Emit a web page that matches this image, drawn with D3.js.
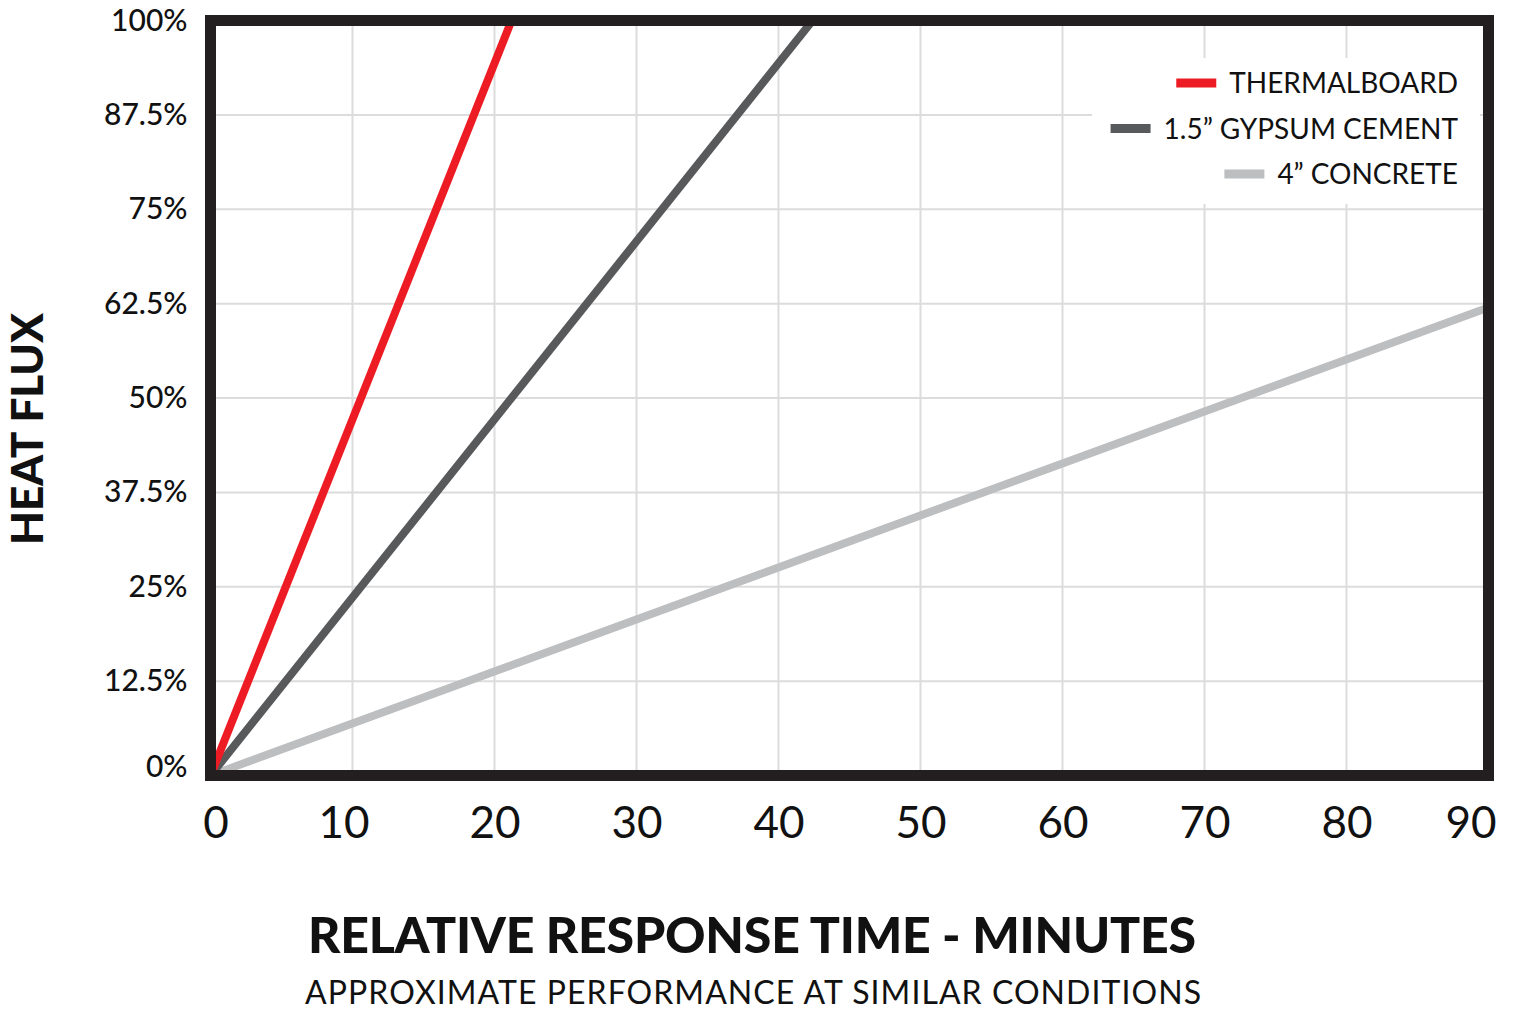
<!DOCTYPE html>
<html>
<head>
<meta charset="utf-8">
<title>Heat Flux vs Relative Response Time</title>
<style>
  body { margin: 0; background: #fff; }
  svg text { font-family: Lato, "Open Sans", sans-serif; fill: #111; }
</style>
</head>
<body>
<script src="https://cdn.jsdelivr.net/npm/d3@7"></script>
<script>

// chart data
var seriesNames = ["THERMALBOARD", "1.5\u201D GYPSUM CEMENT", "4\u201D CONCRETE"];
var seriesColors = ["#ed1c24", "#58595b", "#bcbec0"];
var thermalboard = [[0, 0], [21.2, 100]];
var gypsum = [[0, 0], [42.4, 100]];
var concrete = [[0, 0], [90, 62]];
var xTicks = [0, 10, 20, 30, 40, 50, 60, 70, 80, 90];
var yTicks = [0, 12.5, 25, 37.5, 50, 62.5, 75, 87.5, 100];

var allSeries = [thermalboard, gypsum, concrete];

var W = 1518, H = 1012;
var svg = d3.select("body").append("svg")
    .attr("width", W)
    .attr("height", H);

// scales - plot frame centred on the thick border
var x = d3.scaleLinear().domain([0, 90]).range([210.5, 1488.5]);
var y = d3.scaleLinear().domain([0, 100]).range([775.5, 20.5]);

// clip for the lines
svg.append("clipPath").attr("id", "plot")
  .append("rect")
    .attr("x", x(0)).attr("y", y(100))
    .attr("width", x(90) - x(0))
    .attr("height", y(0) - y(100));

// grid
svg.append("g")
    .selectAll("line.vg")
    .data(xTicks.slice(1, -1))
    .enter().append("line")
    .attr("x1", function(d) { return x(d); })
    .attr("x2", function(d) { return x(d); })
    .attr("y1", y(100)).attr("y2", y(0))
    .attr("stroke", "#dcdcdc").attr("stroke-width", 2);

svg.append("g")
    .selectAll("line.hg")
    .data(yTicks.slice(1, -1))
    .enter().append("line")
    .attr("y1", function(d) { return y(d); })
    .attr("y2", function(d) { return y(d); })
    .attr("x1", x(0)).attr("x2", x(90))
    .attr("stroke", "#dcdcdc").attr("stroke-width", 2);

// series lines
var line = d3.line()
    .x(function(d) { return x(d[0]); })
    .y(function(d) { return y(d[1]); });

svg.append("g")
    .attr("clip-path", "url(#plot)")
    .selectAll("path")
    .data(allSeries.slice().reverse())
    .enter().append("path")
    .attr("d", line)
    .attr("fill", "none")
    .attr("stroke", function(d, i) { return seriesColors[2 - i]; })
    .attr("stroke-width", 8);

// legend (white box hides the grid behind it)
svg.append("rect")
    .attr("x", 1092).attr("y", 58)
    .attr("width", 388).attr("height", 146)
    .attr("fill", "#fff");

var legend = svg.append("g")
    .selectAll("g")
    .data(seriesNames)
    .enter().append("g")
    .attr("transform", function(d, i) { return "translate(1458," + (83 + i * 45.5) + ")"; });

legend.append("text")
    .attr("text-anchor", "end")
    .attr("dy", "0.36em")
    .style("font-size", "28px")
    .text(function(d) { return d; });

legend.each(function(d, i) {
    var g = d3.select(this);
    var w = g.select("text").node().getComputedTextLength();
    g.insert("line", "text")
      .attr("x1", -w - 13).attr("x2", -w - 53)
      .attr("y1", 0).attr("y2", 0)
      .attr("stroke", seriesColors[i])
      .attr("stroke-width", 9);
});

// frame
svg.append("rect")
    .attr("x", x(0)).attr("y", y(100))
    .attr("width", x(90) - x(0))
    .attr("height", y(0) - y(100))
    .attr("fill", "none")
    .attr("stroke", "#231f20")
    .attr("stroke-width", 11);

// y axis
var yAxis = svg.append("g")
    .attr("transform", "translate(" + x(0) + ",0)")
    .call(d3.axisLeft(y).tickValues(yTicks).tickSize(0).tickPadding(23)
        .tickFormat(function(d) { return d + "%"; }));
yAxis.select(".domain").remove();
yAxis.selectAll("text")
    .attr("y", function(d) { return d === 0 ? -9 : 0; })
    .style("font-size", "30px")
    .style("font-family", "Lato, sans-serif")
    .style("font-weight", "500")
    .attr("fill", "#111");

// x axis
var xAxis = svg.append("g")
    .attr("transform", "translate(0," + y(0) + ")")
    .call(d3.axisBottom(x).tickValues(xTicks).tickSize(0));
xAxis.select(".domain").remove();
xAxis.selectAll("text")
    .attr("dy", null)
    .attr("y", 62)
    .attr("x", function(d) { return d === 0 ? 5 : (d === 90 ? -18 : (d === 10 ? -9 : 0)); })
    .style("font-size", "44px")
    .style("font-family", "Lato, sans-serif")
    .attr("fill", "#111");

// axis titles
svg.append("text")
    .attr("transform", "translate(43,429) rotate(-90)")
    .attr("text-anchor", "middle")
    .style("font-size", "44px")
    .style("font-weight", "900")
    .attr("textLength", 232)
    .text("HEAT FLUX");

svg.append("text")
    .attr("x", 752).attr("y", 953)
    .attr("text-anchor", "middle")
    .style("font-size", "50px")
    .style("font-weight", "900")
    .attr("textLength", 888)
    .text("RELATIVE RESPONSE TIME - MINUTES");

svg.append("text")
    .attr("x", 753).attr("y", 1004)
    .attr("text-anchor", "middle")
    .style("font-size", "32px")
    .attr("textLength", 896)
    .text("APPROXIMATE PERFORMANCE AT SIMILAR CONDITIONS");

</script>
</body>
</html>
